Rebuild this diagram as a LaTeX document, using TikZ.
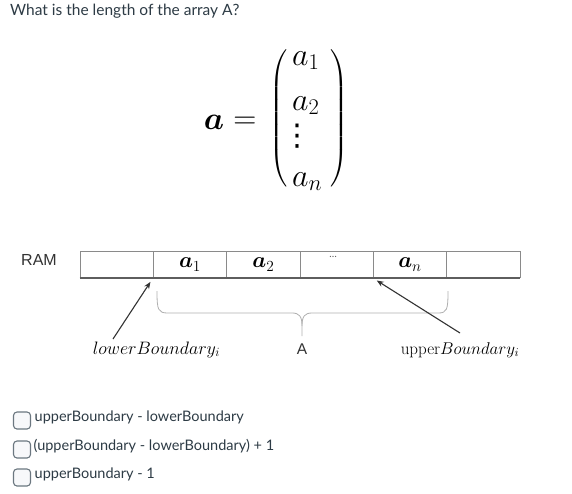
\documentclass[tikz,border=0pt]{standalone}
\usepackage{fix-cm}
\usepackage{amsmath}
\usepackage[no-math]{fontspec}
\setmainfont{Lato}
\newfontfamily\arialf{Liberation Sans}
\newfontfamily\dejavu{DejaVu Sans}
\usetikzlibrary{arrows.meta,calc}
\definecolor{qtext}{HTML}{2D3B45}
\definecolor{cellline}{HTML}{8A8A8A}
\definecolor{cellbottom}{HTML}{5E5E5E}
\definecolor{bracecol}{HTML}{B0B0B0}
\definecolor{arrowcol}{HTML}{333333}
\definecolor{cbline}{HTML}{6B7780}
\definecolor{cbfill}{HTML}{F7F8FA}
\newcommand{\fs}[1]{\fontsize{#1}{#1}\selectfont}
\begin{document}
\begin{tikzpicture}[x=1pt,y=-1pt,
  cell/.style={draw=cellline,line width=0.8pt,minimum width=73.33pt,minimum height=26pt,inner sep=0pt,font=\fs{22}},
  arr/.style={draw=arrowcol,line width=1.1pt,-{Stealth[length=7pt,width=5.5pt]},shorten >=4.5pt},
  brace/.style={draw=bracecol,line width=0.8pt},
  checkbox/.style={draw=cbline,line width=1.1pt,fill=cbfill,rounded corners=3.5pt,minimum size=17pt,inner sep=0pt},
  answer/.style={anchor=base west,inner sep=0pt,font=\fs{14.5},text=qtext},
  mathbig/.style={inner sep=0pt,font=\fs{32}},
  paren/.style={inner sep=0pt,font=\fs{22}},
  lbl/.style={inner sep=0pt,anchor=base,font=\fs{18}}
]
\useasboundingbox (0,0) rectangle (572,493);
\fill[white] (0,0) rectangle (572,493);

% question
\node[answer,font=\fs{15.5}] (q) at (10,15) {What is the length of the array A?};

% vector
\node[mathbig,anchor=base] (va) at (214,129) {$\boldsymbol{a}$};
\node[mathbig,anchor=base] (eq) at (245,128) {$=$};
\node[paren] (lp) at (279,118.5) {$\left(\vrule height 61pt depth 61pt width 0pt\right.$};
\node[paren] (rp) at (339,118.5) {$\left.\vrule height 61pt depth 61pt width 0pt\right)$};
\node[mathbig,anchor=base west] (m1) at (292,65) {$a_1$};
\node[mathbig,anchor=base west] (m2) at (292,110) {$a_2$};
\node[inner sep=0pt,font=\dejavu\fs{30}] (md) at (297,136) {⋮};
\node[mathbig,anchor=base west] (mn) at (292,186) {$a_n$};

% RAM
\node[inner sep=0pt,anchor=base west,font=\arialf\fs{16},text=arrowcol] (ram) at (21,265.7) {RAM};
\node[cell] (c0) at (116.67,264.7) {};
\node[cell] (c1) at (190.00,264.7) {$\boldsymbol{a}_1$};
\node[cell] (c2) at (263.33,264.7) {$\boldsymbol{a}_2$};
\node[cell] (c3) at (336.67,264.7) {};
\node[cell] (c4) at (410.00,264.7) {$\boldsymbol{a}_n$};
\node[cell] (c5) at (483.33,264.7) {};
\node[inner sep=0pt,font=\fs{10},text=cellbottom] (dots) at (333,257) {\textellipsis};
\draw[cellbottom,line width=2pt] (c0.south west) -- (c5.south east);

% brace
\draw[brace] (157,291) .. controls (157,310) and (158,313) .. (168,313) -- (292,313)
  .. controls (299,313) and (302,316) .. (302,326) -- (302,336);
\draw[brace] (302,326) .. controls (302,316) and (305,313) .. (312,313) -- (438,313)
  .. controls (447,313) and (448,310) .. (448,291);

% labels
\node[lbl] (lb) at (156.5,354) {$lowerBoundary_i$};
\node[inner sep=0pt,anchor=base,font=\arialf\fs{15.5},text=arrowcol] (A) at (302,354) {A};
\node[lbl,font=\fs{17}] (ub) at (460,354) {$\mathrm{upper}Boundary_i$};

% arrows
\coordinate (lt) at (113,339);
\coordinate (ut) at (460,333);
\draw[arr] (lt) -- (c1.south west);
\draw[arr] (ut) -- (c4.south west);

% answers
\node[checkbox] (cb1) at (22,420.5) {};
\node[checkbox] (cb2) at (22,449.5) {};
\node[checkbox] (cb3) at (22,477.5) {};
\node[answer] (t1) at (34.5,421) {upperBoundary - lowerBoundary};
\node[answer] (t2) at (33.5,450) {(upperBoundary - lowerBoundary) + 1};
\node[answer] (t3) at (34.5,478) {upperBoundary - 1};
\end{tikzpicture}
\end{document}
